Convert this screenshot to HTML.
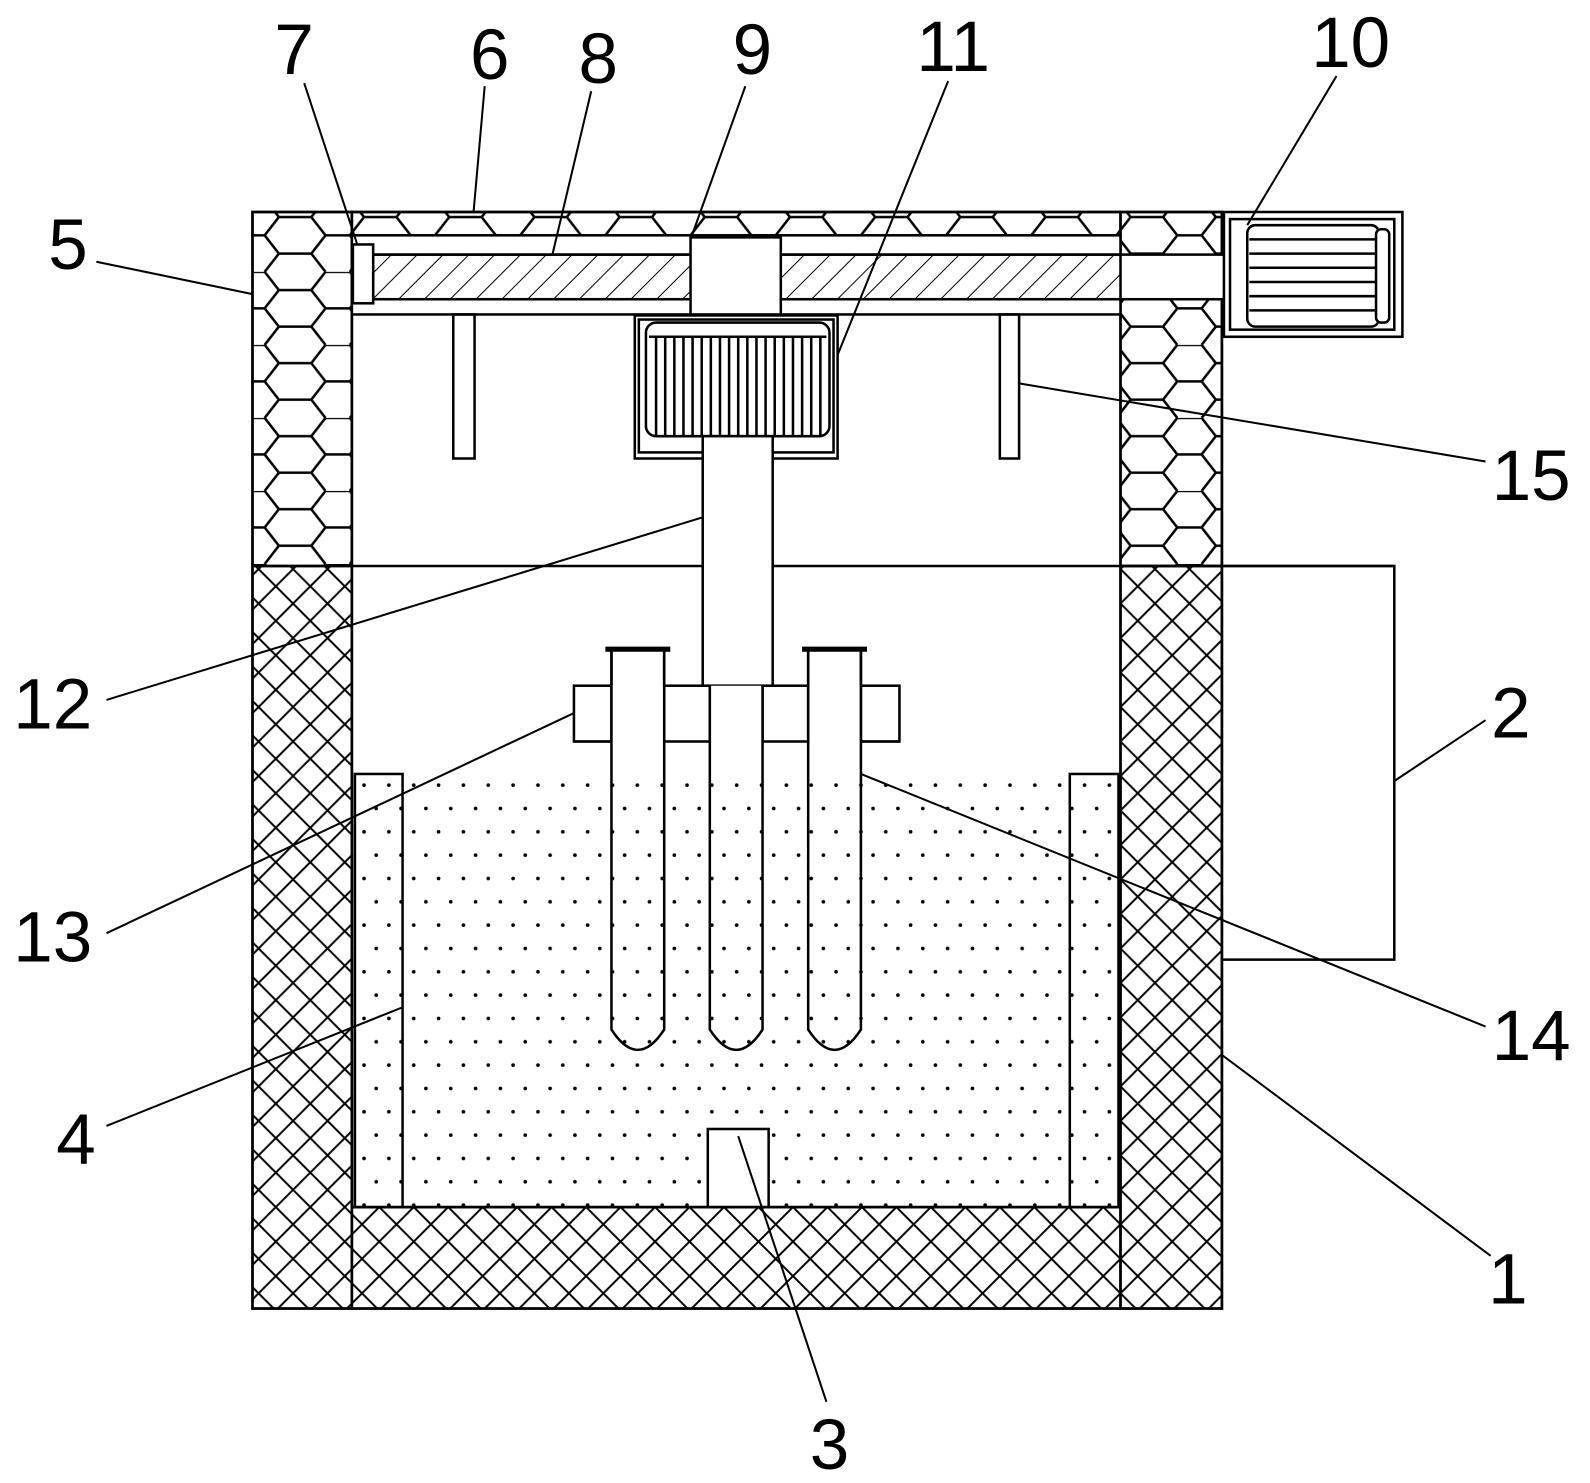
<!DOCTYPE html>
<html><head><meta charset="utf-8"><style>html,body{margin:0;padding:0;background:#fff}svg{display:block}</style></head>
<body>
<svg width="1590" height="1483" viewBox="0 0 1568 1462" preserveAspectRatio="none" xmlns="http://www.w3.org/2000/svg">
<defs>
<pattern id="hex" width="84" height="72" patternUnits="userSpaceOnUse" x="249" y="196">
<path d="M0 0 L12 0 L26 18 L12 36 L26 54 L12 72 M12 36 L0 36 M26 18 L58 18 L72 0 L84 0 M26 54 L58 54 L72 72 M58 18 L72 36 L58 54 M72 36 L84 36" fill="none" stroke="#000" stroke-width="2.5"/>
</pattern>
<pattern id="xh" width="34" height="34" patternUnits="userSpaceOnUse">
<path d="M0 34 L34 0 M0 0 L34 34 M-8 8 L8 -8 M26 42 L42 26" fill="none" stroke="#000" stroke-width="2"/>
</pattern>
<pattern id="dots" width="49" height="46" patternUnits="userSpaceOnUse" x="405" y="771">
<circle cx="3" cy="3" r="1.8"/><circle cx="27.5" cy="3" r="1.8"/><circle cx="15" cy="26" r="1.8"/><circle cx="39.5" cy="26" r="1.8"/>
</pattern>
<pattern id="diag" width="18" height="18" patternUnits="userSpaceOnUse" patternTransform="rotate(45)">
<line x1="0" y1="0" x2="0" y2="18" stroke="#000" stroke-width="2"/>
</pattern>
</defs>
<g fill="none" stroke="#000" stroke-width="2.5">
<rect x="249" y="209" width="98" height="349" fill="url(#hex)"/>
<rect x="1105" y="209" width="100" height="349" fill="url(#hex)"/>
<rect x="347" y="209" width="758" height="23" fill="url(#hex)"/>
<rect x="249" y="558" width="98" height="732" fill="url(#xh)"/>
<rect x="1105" y="558" width="100" height="732" fill="url(#xh)"/>
<rect x="347" y="1190" width="758" height="100" fill="url(#xh)"/>
<rect x="249" y="209" width="956" height="1081"/>
<rect x="347" y="765" width="758" height="425" fill="url(#dots)" stroke="none"/>
<rect x="350" y="763" width="47" height="427" fill="#fff" stroke="none"/>
<rect x="350" y="763" width="47" height="427" fill="url(#dots)"/>
<rect x="1055" y="763" width="48" height="427" fill="#fff" stroke="none"/>
<rect x="1055" y="763" width="48" height="427" fill="url(#dots)"/>
<rect x="698" y="1113" width="60" height="77" fill="#fff"/>
<line x1="347" y1="558" x2="1375" y2="558"/>
<line x1="347" y1="558" x2="347" y2="1190"/>
<line x1="1105" y1="558" x2="1105" y2="1190"/>
<line x1="347" y1="1190" x2="1105" y2="1190"/>
<line x1="347" y1="310" x2="347" y2="558"/>
<line x1="1105" y1="310" x2="1105" y2="558"/>
<polyline points="1205,558 1375,558 1375,946 1205,946"/>
<rect x="347" y="232" width="758" height="78" fill="#fff"/>
<rect x="368" y="251" width="862" height="44" fill="#fff"/>
<rect x="368" y="251" width="737" height="44" fill="url(#diag)"/>
<rect x="348" y="241" width="20" height="58" fill="#fff"/>
<rect x="681" y="234" width="89" height="76" fill="#fff"/>
<rect x="1207" y="209" width="176" height="123" fill="#fff"/>
<rect x="1213" y="216" width="162" height="109"/>
<rect x="1230" y="222" width="130" height="100" rx="8" fill="#fff"/>
<path d="M1232 236H1358M1232 250H1358M1232 264H1358M1232 278H1358M1232 292H1358M1232 306H1358"/>
<rect x="1357" y="226" width="13" height="92" rx="5" fill="#fff"/>
<rect x="447" y="310" width="21" height="142"/>
<rect x="986" y="310" width="19" height="142"/>
<rect x="626" y="311" width="200" height="141"/>
<rect x="630" y="315" width="192" height="131"/>
<rect x="637" y="318" width="181" height="112" rx="10" fill="#fff"/>
<line x1="640" y1="332" x2="815" y2="332"/>
<path d="M647 332V430M656 332V430M665 332V430M674 332V430M683 332V430M692 332V430M701 332V430M710 332V430M719 332V430M728 332V430M737 332V430M746 332V430M755 332V430M764 332V430M773 332V430M782 332V430M791 332V430M800 332V430M809 332V430"/>
<rect x="693" y="430" width="69" height="246" fill="#fff"/>
<rect x="566" y="676" width="321" height="55" fill="#fff"/>
<path d="M603 640 V1015 Q629 1055 655 1015 V640" fill="#fff"/>
<path d="M700 676 V1015 Q726 1055 752 1015 V676" fill="#fff"/>
<path d="M797 640 V1015 Q823 1055 849 1015 V640" fill="#fff"/>
<path d="M603 765 V1015 Q629 1055 655 1015 V765Z" fill="url(#dots)" stroke="none"/>
<path d="M700 765 V1015 Q726 1055 752 1015 V765Z" fill="url(#dots)" stroke="none"/>
<path d="M797 765 V1015 Q823 1055 849 1015 V765Z" fill="url(#dots)" stroke="none"/>
<rect x="604" y="676" width="50" height="55" fill="#fff" stroke="none"/>
<rect x="701" y="677" width="50" height="54" fill="#fff" stroke="none"/>
<rect x="798" y="676" width="50" height="55" fill="#fff" stroke="none"/>
<path d="M603 640V731M655 640V731M700 676V731M752 676V731M797 640V731M849 640V731M603 731H566M887 731H849"/>
<line x1="597" y1="640" x2="661" y2="640" stroke-width="5"/>
<line x1="791" y1="640" x2="855" y2="640" stroke-width="5"/>
<g stroke-width="2">
<line x1="95" y1="258" x2="249" y2="290"/>
<line x1="300" y1="82" x2="352" y2="240"/>
<line x1="478" y1="85" x2="467" y2="209"/>
<line x1="583" y1="90" x2="545" y2="250"/>
<line x1="735" y1="85" x2="681" y2="236"/>
<line x1="935" y1="80" x2="826" y2="350"/>
<line x1="1318" y1="75" x2="1230" y2="222"/>
<line x1="1465" y1="455" x2="1005" y2="378"/>
<line x1="105" y1="690" x2="693" y2="510"/>
<line x1="1465" y1="710" x2="1375" y2="770"/>
<line x1="105" y1="920" x2="566" y2="703"/>
<line x1="1465" y1="1012" x2="849" y2="763"/>
<line x1="105" y1="1110" x2="397" y2="993"/>
<line x1="1470" y1="1238" x2="1205" y2="1040"/>
<line x1="815" y1="1382" x2="728" y2="1120"/>
</g>
</g>
<g font-family="Liberation Sans, sans-serif" font-size="70" text-anchor="middle" fill="#000">
<text x="67" y="265">5</text>
<text x="290" y="73">7</text>
<text x="483" y="78">6</text>
<text x="590" y="82">8</text>
<text x="742" y="73">9</text>
<text x="940" y="70">11</text>
<text x="1332" y="66">10</text>
<text x="1510" y="493">15</text>
<text x="52" y="718">12</text>
<text x="1490" y="727">2</text>
<text x="52" y="948">13</text>
<text x="1510" y="1045">14</text>
<text x="75" y="1147">4</text>
<text x="1487" y="1285">1</text>
<text x="818" y="1448">3</text>
</g>
</svg>
</body></html>
